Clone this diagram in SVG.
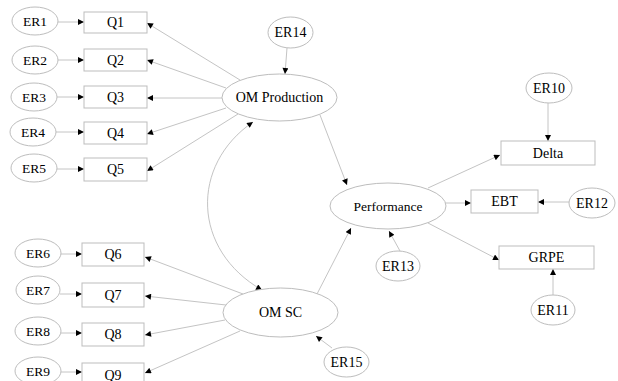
<svg xmlns="http://www.w3.org/2000/svg" width="618" height="381" viewBox="0 0 618 381">
<defs>
<marker id="ah" viewBox="0 0 10 10" refX="10" refY="5" markerWidth="7" markerHeight="6" markerUnits="userSpaceOnUse" orient="auto-start-reverse">
<path d="M0,0 L10,5 L0,10 z" fill="#000"/>
</marker>
<style>
.n ellipse,.n rect{fill:#fff;stroke:#bdbdbd;stroke-width:1}
.n text{font-size:14px;fill:#000;text-anchor:middle;dominant-baseline:central}
.mid text{font-size:13.5px}
#edges path,#edges line{stroke:#c4c4c4;stroke-width:1;fill:none;marker-end:url(#ah)}
</style>
</defs>
<rect width="618" height="381" fill="#fff"/>
<g id="edges">
<line x1="58" y1="22" x2="84" y2="22"/>
<line x1="57" y1="60" x2="84" y2="60"/>
<line x1="57" y1="97" x2="84" y2="97"/>
<line x1="56" y1="132" x2="84" y2="132"/>
<line x1="57" y1="169" x2="84" y2="169"/>
<line x1="61" y1="254" x2="82" y2="254"/>
<line x1="60" y1="294" x2="82" y2="294"/>
<line x1="60" y1="333" x2="82" y2="333"/>
<line x1="61" y1="372" x2="82" y2="372"/>
<line x1="240" y1="80" x2="147" y2="23"/>
<line x1="226" y1="88" x2="147" y2="60"/>
<line x1="222" y1="98" x2="147" y2="98"/>
<line x1="226" y1="108" x2="147" y2="134"/>
<line x1="238" y1="114" x2="147" y2="171"/>
<line x1="243" y1="294" x2="145" y2="257"/>
<line x1="226" y1="305" x2="145" y2="296"/>
<line x1="225" y1="320" x2="145" y2="335"/>
<line x1="240" y1="331" x2="145" y2="373"/>
<line x1="287" y1="48" x2="285" y2="74"/>
<line x1="320" y1="115" x2="347" y2="185"/>
<line x1="317" y1="294" x2="351" y2="228"/>
<line x1="332" y1="348" x2="316" y2="336"/>
<line x1="400" y1="251" x2="389" y2="231"/>
<line x1="428" y1="188" x2="500" y2="155"/>
<line x1="443" y1="203" x2="471" y2="203"/>
<line x1="428" y1="223" x2="499" y2="260"/>
<line x1="548" y1="103" x2="548" y2="141"/>
<line x1="569" y1="202" x2="538" y2="202"/>
<line x1="553" y1="295" x2="553" y2="269"/>
<path d="M253,122 C190,165 192,250 262,290" style="marker-start:url(#ah)"/>
</g>
<g font-family="'Liberation Serif', 'Times New Roman', 'DejaVu Serif', serif">
<g id="ER1" class="n mid"><ellipse cx="35" cy="21" rx="23" ry="14"/><text x="35" y="21">ER1</text></g>
<g id="ER2" class="n mid"><ellipse cx="35" cy="60" rx="23" ry="14"/><text x="35" y="60">ER2</text></g>
<g id="ER3" class="n mid"><ellipse cx="34" cy="97" rx="23" ry="14"/><text x="34" y="97">ER3</text></g>
<g id="ER4" class="n mid"><ellipse cx="33" cy="132" rx="23" ry="14"/><text x="33" y="132">ER4</text></g>
<g id="ER5" class="n mid"><ellipse cx="34" cy="168" rx="23" ry="14"/><text x="34" y="168">ER5</text></g>
<g id="Q1" class="n"><rect x="84" y="12" width="63" height="21"/><text x="115.5" y="22.5">Q1</text></g>
<g id="Q2" class="n"><rect x="84" y="49" width="63" height="22"/><text x="115.5" y="60">Q2</text></g>
<g id="Q3" class="n"><rect x="84" y="86" width="63" height="22"/><text x="115.5" y="97">Q3</text></g>
<g id="Q4" class="n"><rect x="84" y="122" width="63" height="22"/><text x="115.5" y="133">Q4</text></g>
<g id="Q5" class="n"><rect x="84" y="158" width="63" height="23"/><text x="115.5" y="169.5">Q5</text></g>
<g id="ER6" class="n mid"><ellipse cx="38" cy="253" rx="23" ry="14"/><text x="38" y="253">ER6</text></g>
<g id="ER7" class="n mid"><ellipse cx="38" cy="290" rx="22" ry="14"/><text x="38" y="290">ER7</text></g>
<g id="ER8" class="n mid"><ellipse cx="38" cy="331" rx="23" ry="14"/><text x="38" y="331">ER8</text></g>
<g id="ER9" class="n mid"><ellipse cx="38" cy="371" rx="23" ry="14"/><text x="38" y="371">ER9</text></g>
<g id="Q6" class="n"><rect x="82" y="243" width="62" height="23"/><text x="113" y="254.5">Q6</text></g>
<g id="Q7" class="n"><rect x="82" y="283" width="62" height="24"/><text x="113" y="295">Q7</text></g>
<g id="Q8" class="n"><rect x="82" y="323" width="62" height="23"/><text x="113" y="334.5">Q8</text></g>
<g id="Q9" class="n"><rect x="82" y="363" width="62" height="24"/><text x="113" y="375">Q9</text></g>
<g id="ER14" class="n"><ellipse cx="290.5" cy="32.5" rx="22.5" ry="15.5"/><text x="290.5" y="32.5">ER14</text></g>
<g id="OMProduction" class="n"><ellipse cx="279.5" cy="97.5" rx="57.5" ry="23.5"/><text x="279.5" y="97.5">OM Production</text></g>
<g id="OMSC" class="n"><ellipse cx="280.5" cy="312.5" rx="57.5" ry="24.5"/><text x="280.5" y="312.5">OM SC</text></g>
<g id="ER15" class="n"><ellipse cx="346.5" cy="362" rx="22.5" ry="15"/><text x="346.5" y="362">ER15</text></g>
<g id="Performance" class="n mid"><ellipse cx="388" cy="206" rx="58" ry="23"/><text x="388" y="206">Performance</text></g>
<g id="ER13" class="n"><ellipse cx="398" cy="266" rx="22" ry="15"/><text x="398" y="266">ER13</text></g>
<g id="ER10" class="n"><ellipse cx="549" cy="88" rx="23" ry="15"/><text x="549" y="88">ER10</text></g>
<g id="Delta" class="n"><rect x="501" y="141" width="94" height="24"/><text x="548" y="153">Delta</text></g>
<g id="EBT" class="n"><rect x="471" y="190" width="67" height="23"/><text x="504.5" y="201.5">EBT</text></g>
<g id="ER12" class="n"><ellipse cx="592" cy="203" rx="23" ry="15"/><text x="592" y="203">ER12</text></g>
<g id="GRPE" class="n"><rect x="499" y="246" width="95" height="23"/><text x="546.5" y="257.5">GRPE</text></g>
<g id="ER11" class="n"><ellipse cx="553" cy="310" rx="22" ry="15"/><text x="553" y="310">ER11</text></g>
</g>
</svg>
